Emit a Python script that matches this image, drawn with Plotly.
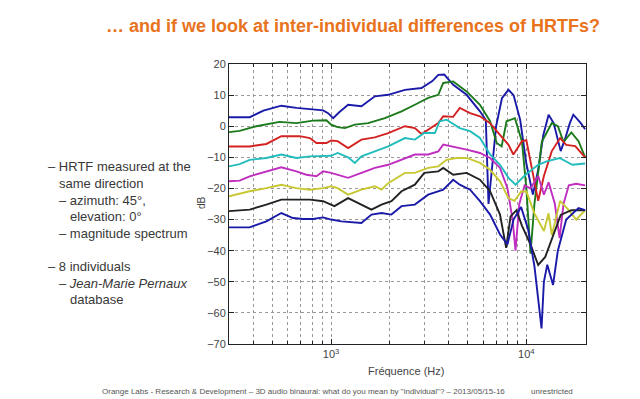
import plotly.graph_objects as go

# ---------------- data ----------------
freq_1 = [300, 383, 450, 556, 664, 778, 910, 965, 1025, 1100, 1222, 1430, 1675, 1961, 2388, 2905, 3300, 3539, 3800, 4220, 4944, 5786, 6200, 6400, 6700, 7000, 7500, 8100, 8600, 9300, 10000, 10800, 11500, 12200, 13000, 13800, 15000, 15800, 16700, 17400, 19000, 20000]
db_1 = [2.9, 2.9, 5.0, 6.6, 5.9, 5.5, 5.1, 4.2, 2.6, 4.5, 6.9, 6.4, 9.6, 10.1, 11.7, 12.3, 14.5, 16.5, 16.6, 13.3, 10.1, 4.8, 2.0, -25.0, -12.0, 0.0, 9.0, 11.7, 10.0, 2.0, -12.0, -22.0, -14.0, -3.0, 3.7, 1.0, -8.0, -4.0, 1.0, 3.7, 1.0, -1.0]

freq_2 = [300, 340, 414, 545, 664, 808, 946, 1000, 1080, 1176, 1323, 1548, 1887, 2295, 2685, 3142, 3539, 3753, 4220, 4944, 5786, 6520, 7050, 7470, 7920, 8740, 9500, 10000, 10500, 11000, 12000, 13500, 14500, 15500, 17000, 18500, 20000]
db_2 = [-1.9, -1.5, 0.0, 1.4, 1.0, 1.8, 1.9, 0.5, -0.3, -0.6, 0.5, 1.0, 2.6, 4.8, 6.9, 9.1, 10.1, 13.9, 14.4, 11.2, 6.9, 1.6, -5.4, -6.5, 1.6, 2.6, -5.0, -20.0, -41.0, -25.0, -5.0, 1.0, 0.0, -5.0, -2.0, -4.8, -10.0]

freq_3 = [300, 383, 466, 556, 691, 778, 841, 946, 1000, 1080, 1222, 1430, 1675, 1961, 2388, 2685, 2905, 3142, 3539, 3753, 4220, 4560, 5150, 5786, 6520, 7200, 8100, 8580, 9500, 10000, 10800, 11500, 12300, 13500, 14900, 16000, 17800, 20000]
db_3 = [-6.5, -6.5, -5.7, -3.2, -3.2, -3.8, -5.4, -5.4, -4.6, -4.8, -7.0, -4.3, -3.6, -2.2, 0.0, -0.6, -2.5, -1.1, 1.0, 3.2, 3.0, 5.9, 4.2, 3.2, 1.0, -2.2, -6.0, -9.1, -4.8, -4.5, -15.0, -24.0, -16.0, -8.0, -3.8, -6.0, -6.4, -10.0]

freq_4 = [300, 340, 383, 466, 556, 664, 778, 910, 1000, 1080, 1222, 1323, 1430, 1675, 1961, 2388, 2685, 3000, 3400, 3600, 3900, 4560, 5150, 5786, 6520, 7330, 8100, 8800, 9900, 11500, 12700, 14800, 17200, 20000]
db_4 = [-12.9, -12.2, -10.8, -10.2, -9.1, -10.2, -9.7, -9.7, -9.5, -8.6, -10.0, -11.8, -9.7, -8.1, -6.5, -3.8, -4.3, -2.2, -2.2, 1.6, 2.1, -0.6, -1.6, -3.8, -9.1, -12.4, -16.6, -18.8, -15.6, -12.4, -11.3, -10.2, -12.4, -12.0]

freq_5 = [300, 340, 383, 466, 556, 664, 748, 841, 910, 1000, 1080, 1222, 1430, 1675, 1961, 2388, 2685, 3142, 3539, 3753, 4220, 4944, 5786, 6520, 7330, 8000, 8500, 8800, 9200, 9800, 10500, 11500, 12300, 13000, 14000, 14800, 15500, 16500, 18000, 20000]
db_5 = [-17.7, -17.5, -16.1, -14.5, -13.2, -14.5, -15.6, -16.1, -14.5, -15.0, -15.6, -16.6, -15.0, -13.4, -12.4, -10.2, -9.1, -9.1, -8.1, -5.9, -6.5, -7.5, -8.6, -10.2, -13.4, -19.9, -30.0, -40.0, -25.0, -19.0, -20.0, -16.0, -22.0, -18.0, -25.0, -36.0, -25.0, -19.0, -18.5, -19.0]

freq_6 = [300, 383, 466, 556, 664, 778, 910, 1000, 1080, 1222, 1430, 1675, 1812, 1961, 2388, 2685, 3142, 3539, 3900, 4400, 4950, 5786, 6520, 7330, 8100, 8700, 9400, 10000, 11000, 12300, 13000, 13500, 14900, 16500, 18000, 20000]
db_6 = [-22.5, -20.9, -19.9, -18.8, -19.9, -20.4, -19.9, -19.3, -19.9, -22.0, -20.4, -19.3, -20.4, -18.3, -15.0, -15.0, -13.4, -12.9, -10.8, -10.2, -10.2, -11.8, -14.0, -17.7, -23.1, -24.0, -21.0, -21.0, -28.0, -33.7, -28.0, -35.0, -24.0, -27.0, -30.0, -27.0]

freq_7 = [300, 383, 466, 556, 664, 778, 910, 1000, 1040, 1222, 1430, 1610, 1812, 2037, 2295, 2685, 3000, 3539, 3753, 4220, 4944, 5786, 6520, 7330, 7880, 8300, 8900, 9500, 10500, 11500, 12500, 13500, 15000, 17000, 20000]
db_7 = [-27.3, -26.8, -25.2, -23.6, -23.6, -23.6, -24.1, -25.2, -25.7, -23.1, -25.2, -26.8, -25.2, -24.1, -20.9, -18.8, -15.0, -14.5, -13.4, -15.6, -15.0, -17.2, -20.9, -28.4, -39.1, -29.0, -27.0, -32.0, -38.0, -44.6, -42.0, -36.0, -28.5, -27.0, -27.0]

freq_8 = [300, 383, 466, 556, 638, 719, 808, 910, 1000, 1130, 1430, 1610, 1812, 2037, 2295, 2685, 3142, 3539, 3753, 4220, 4560, 5150, 5786, 6520, 7330, 8000, 8600, 9400, 10200, 11000, 11700, 11960, 12300, 12800, 13700, 14500, 16000, 18500, 20000]
db_8 = [-32.5, -32.5, -30.6, -27.9, -29.5, -29.8, -29.8, -29.3, -30.0, -30.6, -31.1, -28.4, -27.9, -28.4, -25.7, -25.2, -22.0, -20.9, -20.4, -17.2, -18.8, -20.4, -24.1, -28.4, -34.8, -38.0, -30.0, -26.0, -33.0, -45.0, -60.0, -65.0, -50.0, -44.5, -51.0, -40.0, -30.0, -26.3, -27.0]

series_freqs = [freq_1, freq_2, freq_3, freq_4, freq_5, freq_6, freq_7, freq_8]
series_dbs = [db_1, db_2, db_3, db_4, db_5, db_6, db_7, db_8]
series_colors = ["#1a1aa8", "#1b7a1b", "#d42222", "#22bcbc", "#c02ec0", "#c8c832", "#222222", "#1a1aa8"]

y_ticks = [20, 10, 0, -10, -20, -30, -40, -50, -60, -70]
x_ticks = [1000, 10000]
x_tick_labels = ["10<sup>3</sup>", "10<sup>4</sup>"]
x_minor = [400, 500, 600, 700, 800, 900, 2000, 3000, 4000, 5000, 6000, 7000, 8000, 9000, 20000]

title_text = "… and if we look at inter-individual differences of HRTFs?"
footer_text = "Orange Labs - Research & Development – 3D audio binaural: what do you mean by \"individual\"? – 2013/05/15-16"

# ---------------- figure ----------------
W, H = 640, 399
X0, X1, Y0, Y1 = 221, 578, 56, 336

def px(x):
    return (x - X0) / (X1 - X0)

def py(y):
    return (Y1 - y) / (Y1 - Y0)

fig = go.Figure()
for f, d, c in zip(series_freqs, series_dbs, series_colors):
    fig.add_trace(go.Scatter(x=f, y=d, mode="lines", line=dict(color=c, width=1.9),
                             showlegend=False, hoverinfo="skip"))

axis_font = dict(family="Liberation Sans, Arial, sans-serif", size=11, color="#444")
fig.update_xaxes(type="log", range=[2.4771, 4.3055], tickvals=x_ticks, ticktext=x_tick_labels,
                 ticks="inside", ticklen=5, tickcolor="#222", showline=True, linecolor="#222",
                 linewidth=1, mirror="ticks", showgrid=True, gridcolor="#9a9a9a", griddash="dot",
                 gridwidth=1, zeroline=False, tickfont=axis_font,
                 minor=dict(tickvals=x_minor, ticks="inside", ticklen=3, tickcolor="#222",
                            showgrid=True, gridcolor="#9a9a9a", griddash="dot", gridwidth=1))
fig.update_yaxes(range=[-70, 20], tickvals=y_ticks, ticks="inside", ticklen=5, tickcolor="#222",
                 showline=True, linecolor="#222", linewidth=1, mirror="ticks", showgrid=True,
                 gridcolor="#9a9a9a", griddash="dot", gridwidth=1, zeroline=False,
                 tickfont=axis_font, ticklabelstandoff=0)

txt_font = dict(family="Liberation Sans, Arial, sans-serif", size=13, color="#383838")
anns = [
    dict(x=px(345), y=py(18), text="<b>" + title_text + "</b>", xanchor="center",
         font=dict(family="Liberation Sans, Arial, sans-serif", size=18, color="#E8731C")),
    dict(x=px(38), y=py(158), text="– HRTF measured at the", xanchor="left", font=txt_font),
    dict(x=px(49), y=py(175), text="same direction", xanchor="left", font=txt_font),
    dict(x=px(49), y=py(192), text="– azimuth: 45°,", xanchor="left", font=txt_font),
    dict(x=px(60), y=py(208), text="elevation: 0°", xanchor="left", font=txt_font),
    dict(x=px(49), y=py(225), text="– magnitude spectrum", xanchor="left", font=txt_font),
    dict(x=px(38), y=py(258), text="– 8 individuals", xanchor="left", font=txt_font),
    dict(x=px(49), y=py(275), text="– <i>Jean-Marie Pernaux</i>", xanchor="left", font=txt_font),
    dict(x=px(60), y=py(291), text="database", xanchor="left", font=txt_font),
    dict(x=px(193), y=py(195), text="dB", textangle=-90, xanchor="center",
         font=dict(family="Liberation Sans, Arial, sans-serif", size=10, color="#444")),
    dict(x=px(398), y=py(363), text="Fréquence (Hz)", xanchor="center",
         font=dict(family="Liberation Sans, Arial, sans-serif", size=11, color="#444")),
    dict(x=px(92), y=py(383), text=footer_text, xanchor="left",
         font=dict(family="Liberation Sans, Arial, sans-serif", size=8, color="#555")),
    dict(x=px(521), y=py(383), text="unrestricted", xanchor="left",
         font=dict(family="Liberation Sans, Arial, sans-serif", size=8, color="#555")),
]
for a in anns:
    a.update(xref="paper", yref="paper", yanchor="middle", showarrow=False)

fig.update_layout(width=W, height=H, autosize=False,
                  margin=dict(l=X0, r=W - X1, t=Y0, b=H - Y1, pad=0),
                  paper_bgcolor="white", plot_bgcolor="white", annotations=anns)

fig.write_html("out.html")
